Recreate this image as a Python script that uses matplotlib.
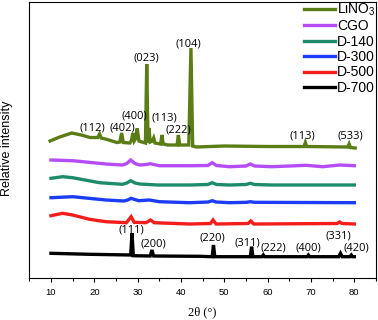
import matplotlib
matplotlib.use("Agg")
import matplotlib.pyplot as plt
from matplotlib.ticker import MultipleLocator

plt.rcParams['font.family'] = ['Liberation Sans', 'DejaVu Sans']
plt.rcParams['mathtext.default'] = 'regular'

# XRD traces, 2theta (deg) and relative intensity (offset stacked)
lino3_x = [9.8, 12.0, 14.8, 17.0, 19.0, 20.8, 21.2, 21.6, 23.0, 25.2, 25.9, 26.3, 26.7, 28.2, 28.6, 28.9,
           29.2, 29.5, 29.9, 30.3, 31.0, 31.8, 32.1, 32.4, 32.6, 32.9, 33.4, 33.7, 34.0, 35.3, 35.6, 35.9,
           37.0, 39.1, 39.4, 39.7, 41.8, 42.3, 42.7, 43.5, 50.0, 60.0, 68.4, 68.7, 69.0, 78.5, 78.8, 79.1, 80.2]
lino3_y = [137, 141, 145, 143, 140.5, 140.5, 144, 140, 138.5, 135.5, 136, 145, 135.5, 135, 138, 145,
           137, 139, 149.5, 137, 136, 135, 214, 135, 150, 136, 137, 140, 135, 134, 143, 134,
           133, 133, 143, 133, 133, 230, 132, 131, 132, 131.5, 131.5, 135.5, 131.5, 131, 134, 130.5, 130]

cgo_x = [10, 15, 22.7, 26.5, 27.5, 28.4, 29.4, 30.5, 32.0, 32.9, 35.0, 42.0, 46.2, 47.2, 48.2, 51.2,
         55.0, 56.0, 57.0, 61.0, 68.9, 72.7, 76.6, 80]
cgo_y = [118, 117.3, 114, 113, 114.5, 118, 114.5, 113, 113.5, 114.3, 112.3, 112.3, 112.5, 115.3, 112.5, 111.3,
         112, 114, 112, 111.3, 112.7, 111.3, 113, 112.3]

d140_x = [10, 12.7, 15, 21.2, 26.5, 27.5, 28.4, 29.4, 30.5, 34.6, 42, 46.2, 47.2, 48.2, 51.2, 55, 56, 57, 61, 80]
d140_y = [99.7, 101.3, 100.3, 95.3, 93.7, 95, 97.3, 95, 94, 93, 93, 93.5, 95.3, 93.5, 93, 93.5, 94.7, 93.5, 93, 93]

d300_x = [10, 15, 22.7, 26.8, 27.7, 28.5, 29.3, 30.3, 32.7, 35, 42, 46.3, 47.2, 48.1, 51.2, 55.1, 56, 56.9, 80]
d300_y = [80.3, 81.3, 78, 77, 78, 79.7, 78.5, 77.3, 78, 76.3, 75.3, 76, 77.3, 76, 75.3, 75.7, 76.3, 75.7, 75.3]

d500_x = [10, 12.7, 15, 18.9, 22.7, 27.4, 27.9, 28.5, 29.2, 31.9, 33.0, 33.8, 42, 46.8, 47.4, 48.1,
          55.5, 56.1, 56.8, 76.0, 76.6, 77.2, 80]
d500_y = [62.3, 64.7, 63, 58.7, 56.3, 55.3, 58, 61.3, 55.7, 55.3, 58, 55.3, 54, 54.5, 58, 54,
          54.5, 57, 54, 54.5, 56, 54.5, 54]

d700_x = [10, 19, 28.4, 28.7, 29.0, 32.9, 33.3, 33.7, 44.3, 47.2, 47.5, 47.8, 56.0, 56.3, 56.6, 58.7,
          59.0, 59.3, 69.1, 69.4, 69.7, 76.4, 76.8, 77.2, 79.0, 79.3, 79.6, 80]
d700_y = [24.7, 23.7, 23, 44.7, 22.3, 22, 28, 22, 21.7, 21.3, 33, 21.3, 21.3, 31.3, 21.3, 21.3,
          23, 21.3, 21.3, 23, 21.3, 21.3, 24.7, 21.3, 21.3, 23, 21.3, 21.3]

series_names = ["LiNO$_3$", "CGO", "D-140", "D-300", "D-500", "D-700"]
series_colors = ["#5a7d16", "#b54cf5", "#1e8c6c", "#1c3cf7", "#f51c1c", "#000000"]

# hkl labels
lino3_hkl = ["(112)", "(402)", "(400)", "(113)", "(222)", "(023)", "(104)", "(113)", "(533)"]
lino3_hkl_x = [19.5, 26.4, 29.3, 36.2, 39.5, 32.0, 41.7, 68.0, 79.0]
lino3_hkl_y = [150, 150, 162, 160, 148, 220, 234, 142, 142]
d700_hkl = ["(111)", "(200)", "(220)", "(311)", "(222)", "(400)", "(331)", "(420)"]
d700_hkl_x = [28.5, 33.7, 47.2, 55.4, 61.4, 69.4, 76.4, 80.4]
d700_hkl_y = [48, 34, 39.7, 35.3, 29.7, 29.7, 42, 29.7]

fig = plt.figure(figsize=(3.78, 3.2), dpi=100)
ax = fig.add_axes([0.0775, 0.13125, 0.9172, 0.864])

xs = [lino3_x, cgo_x, d140_x, d300_x, d500_x, d700_x]
ys = [lino3_y, cgo_y, d140_y, d300_y, d500_y, d700_y]
for x, y, name, c in zip(xs, ys, series_names, series_colors):
    ax.plot(x, y, color=c, lw=2.4, label=name, solid_joinstyle="miter")

for t, x, y in zip(lino3_hkl, lino3_hkl_x, lino3_hkl_y):
    ax.text(x, y, t, ha="center", va="center", fontsize=8, family=["Open Sans", "DejaVu Sans"])
for t, x, y in zip(d700_hkl, d700_hkl_x, d700_hkl_y):
    ax.text(x, y, t, ha="center", va="center", fontsize=8, family=["Open Sans", "DejaVu Sans"])

ax.set_xlim(5, 85)
ax.set_ylim(0, 276.5)
ax.set_xticks([10, 20, 30, 40, 50, 60, 70, 80])
ax.xaxis.set_minor_locator(MultipleLocator(5))
ax.tick_params(axis="x", which="major", direction="out", length=3, width=0.8, labelsize=6.8, pad=4)
ax.tick_params(axis="x", which="minor", direction="out", length=2, width=0.8)
ax.set_yticks([])
for s in ax.spines.values():
    s.set_linewidth(0.8)

ax.set_xlabel("2θ (°)", family=["Liberation Serif", "DejaVu Serif"], fontsize=9, labelpad=7)
ax.set_ylabel("Relative intensity", fontsize=9)
ax.yaxis.set_label_coords(-0.046, 0.47)

leg = ax.legend(loc="upper right", bbox_to_anchor=(1.0, 1.004), frameon=False, fontsize=10,
                handlelength=2.2, handletextpad=0.2, labelspacing=0.1, borderpad=0, borderaxespad=0)
for line in leg.get_lines():
    line.set_linewidth(2.4)

fig.savefig("out.png", dpi=100)
